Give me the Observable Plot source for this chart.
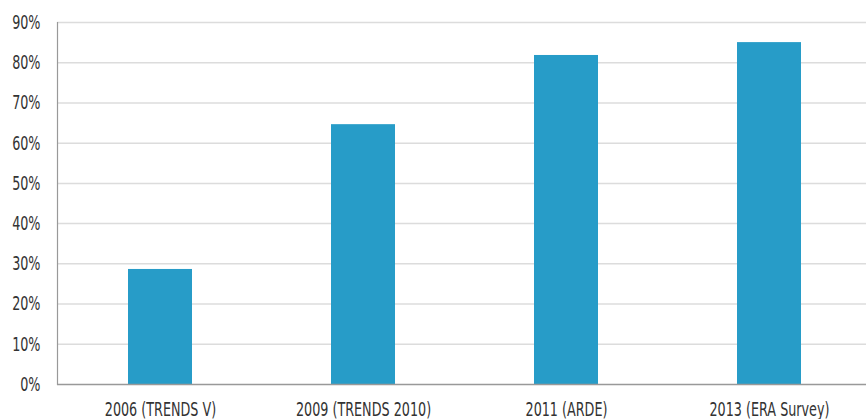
<!DOCTYPE html>
<html>
<head>
<meta charset="utf-8">
<script src="https://cdn.jsdelivr.net/npm/d3@7"></script>
<script src="https://cdn.jsdelivr.net/npm/@observablehq/plot@0.6"></script>
<style>
  html, body { margin: 0; padding: 0; background: #fff; }
  #chart svg { display: block; }
</style>
</head>
<body>
<div id="chart"></div>
<script>
const categories = ["2006 (TRENDS V)", "2009 (TRENDS 2010)", "2011 (ARDE)", "2013 (ERA Survey)"];
const values = [28.6, 64.6, 81.8, 85];
const yTicks = [0, 10, 20, 30, 40, 50, 60, 70, 80, 90];

const data = categories.map((c, i) => ({category: c, value: values[i]}));
const font = "'DejaVu Sans Condensed', 'DejaVu Sans', sans-serif";

const chart = Plot.plot({
  width: 866,
  height: 419,
  marginLeft: 57,
  marginRight: 0,
  marginTop: 22,
  marginBottom: 35,
  style: {fontFamily: font, fontSize: "20px", color: "#333", background: "#fff"},
  x: {domain: categories, range: [57, 872], paddingInner: 0.686, paddingOuter: 0.343, label: null},
  y: {domain: [0, 90], label: null},
  marks: [
    Plot.ruleY(yTicks.filter(d => d > 0), {stroke: "#dcdcdc", strokeWidth: 1.5, strokeOpacity: 1}),
    Plot.barY(data, {x: "category", y: "value", fill: "#279cc8"}),
    Plot.ruleY([0], {stroke: "#999", strokeWidth: 1.5}),
    Plot.frame({anchor: "left", stroke: "#999", strokeWidth: 1.2}),
    Plot.axisY({ticks: yTicks, tickSize: 0, tickPadding: 17, tickFormat: d => d + "%", label: null, fill: "#333"}),
    Plot.axisX({tickSize: 0, tickPadding: 17, label: null, fill: "#333"})
  ]
});
document.getElementById("chart").appendChild(chart);

// condense the text horizontally to mimic the narrow typeface of the original
const sx = 0.71;
chart.querySelectorAll("text").forEach(t => {
  const x = t.getAttribute("x");
  const tr = t.getAttribute("transform") || "";
  let extra = "";
  if (x != null && /^-?[\d.]+$/.test(x.trim())) {
    extra = ` translate(${+x},0)`;
    t.removeAttribute("x");
  }
  t.setAttribute("transform", `${tr}${extra} scale(${sx},1)`);
});
</script>
</body>
</html>
